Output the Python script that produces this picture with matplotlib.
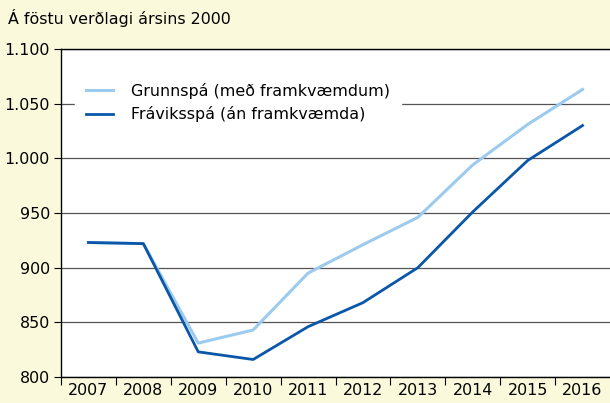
import matplotlib.pyplot as plt
from matplotlib.ticker import FuncFormatter

years = ['2007', '2008', '2009', '2010', '2011', '2012', '2013', '2014', '2015', '2016']
grunnspa = [923, 922, 831, 843, 895, 921, 946, 994, 1031, 1063]
fraviksspa = [923, 922, 823, 816, 846, 868, 900, 951, 998, 1030]

bg = '#fbf9dc'
fs = 11.4
fig = plt.figure(figsize=(6.10, 4.03), dpi=100, facecolor=bg)
ax = fig.add_axes([61 / 610, 26 / 403, 549 / 610, 328 / 403])
ax.set_facecolor('white')

x = range(len(years))
ax.plot(x, grunnspa, color='#9ccbee', lw=2.2, label='Grunnspá (með framkvæmdum)')
ax.plot(x, fraviksspa, color='#0a56a8', lw=2.0, label='Fráviksspá (án framkvæmda)')

ax.set_xlim(-0.5, len(years) - 0.5)
ax.set_ylim(800, 1100)
ax.set_yticks(range(800, 1101, 50))
ax.yaxis.set_major_formatter(FuncFormatter(lambda v, p: f'{int(v):,}'.replace(',', '.')))
ax.grid(axis='y', color='#555555', lw=0.9)
ax.set_axisbelow(True)

# tick marks between the years, labels centred on each year
ax.set_xticks([i - 0.5 for i in x])
ax.set_xticklabels([])
ax.set_xticks(list(x), minor=True)
ax.set_xticklabels(years, minor=True)
ax.tick_params(axis='x', which='minor', length=0, labelsize=fs, pad=4)
ax.tick_params(axis='x', which='major', length=6, color='black')
ax.tick_params(axis='y', length=5, labelsize=fs, pad=3)

ax.spines['right'].set_visible(False)
for s in ['left', 'bottom', 'top']:
    ax.spines[s].set_color('black')
    ax.spines[s].set_linewidth(1.0)

leg = ax.legend(loc='upper left', bbox_to_anchor=(0.02, 0.94), frameon=True, fontsize=fs,
                handlelength=1.7, borderpad=0.4, labelspacing=0.45, handletextpad=1.1)
leg.get_frame().set_facecolor('white')
leg.get_frame().set_edgecolor('white')
leg.get_frame().set_alpha(1)
leg.get_frame().set_boxstyle('square', pad=0.3)

fig.text(8 / 610, 1 - 18 / 403, 'Á föstu verðlagi ársins 2000', fontsize=fs, va='center', ha='left')

fig.savefig('out.png', dpi=100, facecolor=bg)
